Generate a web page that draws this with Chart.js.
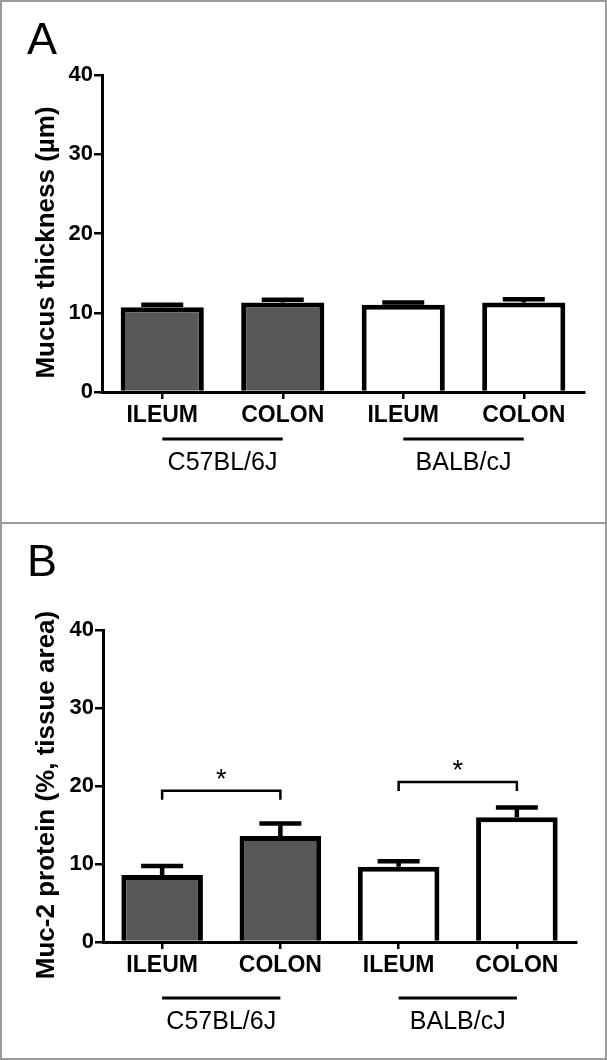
<!DOCTYPE html>
<html>
<head>
<meta charset="utf-8">
<script src="https://cdn.jsdelivr.net/npm/chart.js@4.4.1/dist/chart.umd.min.js"></script>
<style>
  body { margin: 0; background: #fff; }
  canvas { position: absolute; left: 0; }
  .frame { position: absolute; left: 0; width: 607px; box-sizing: border-box; border: 2px solid #9a9a9a; pointer-events: none; }
</style>
</head>
<body>
<canvas id="chartA" width="607" height="523" style="top:0"></canvas>
<canvas id="chartB" width="607" height="537" style="top:523px"></canvas>
<div class="frame" style="top:0;height:524px"></div>
<div class="frame" style="top:522px;height:538px"></div>
<script>
const categories = ['ILEUM', 'COLON', 'ILEUM', 'COLON'];
const strains = ['C57BL/6J', 'BALB/cJ'];
const yTicks = [0, 10, 20, 30, 40];

// panel A: mucus thickness (µm), mean and SEM
const thicknessMean = [10.7, 11.3, 11.0, 11.3];
const thicknessSem = [0.3, 0.35, 0.3, 0.4];

// panel B: Muc-2 protein (% tissue area), mean and SEM
const muc2Mean = [8.6, 13.6, 9.65, 16.0];
const muc2Sem = [1.15, 1.6, 0.7, 1.25];

// significance brackets: from bar, to bar, height
const muc2Brackets = [[0, 1, 19.4], [2, 3, 20.5]];

const barColors = ['#58585a', '#58585a', '#ffffff', '#ffffff'];
const FONT = "'Liberation Sans', Arial, sans-serif";

const extras = {
  id: 'extras',
  afterDatasetsDraw(chart, args, o) {
    const { ctx, scales: { y } } = chart;
    const meta = chart.getDatasetMeta(0);
    const vals = chart.data.datasets[0].data;
    ctx.save();
    ctx.strokeStyle = '#000';
    ctx.lineWidth = 4.5;
    o.errors.forEach((e, i) => {
      const cx = meta.data[i].x;
      const y0 = y.getPixelForValue(vals[i]);
      const y1 = y.getPixelForValue(vals[i] + e);
      ctx.beginPath();
      ctx.moveTo(cx, y0);
      ctx.lineTo(cx, y1);
      ctx.moveTo(cx - 21, y1);
      ctx.lineTo(cx + 21, y1);
      ctx.stroke();
    });
    ctx.restore();
  },
  afterDraw(chart, args, o) {
    const { ctx, chartArea: area, scales: { x, y } } = chart;
    ctx.save();
    ctx.fillStyle = '#000';
    ctx.strokeStyle = '#000';

    // panel letter
    ctx.font = '45px ' + FONT;
    ctx.textAlign = 'left';
    ctx.textBaseline = 'alphabetic';
    ctx.fillText(o.letter, 27, o.letterY);

    // y axis title
    ctx.save();
    ctx.translate(47, (area.top + area.bottom) / 2 + 9);
    ctx.rotate(-Math.PI / 2);
    ctx.font = 'bold 26px ' + FONT;
    ctx.textAlign = 'center';
    ctx.textBaseline = 'middle';
    ctx.fillText(o.title, 0, 0);
    ctx.restore();

    // strain lines and labels
    ctx.lineWidth = 3;
    ctx.font = '25px ' + FONT;
    ctx.textAlign = 'center';
    ctx.textBaseline = 'middle';
    strains.forEach((s, g) => {
      const x0 = x.getPixelForValue(g * 2);
      const x1 = x.getPixelForValue(g * 2 + 1);
      const ly = area.bottom + o.groupLine;
      ctx.beginPath();
      ctx.moveTo(x0, ly);
      ctx.lineTo(x1, ly);
      ctx.stroke();
      ctx.fillText(s, (x0 + x1) / 2, area.bottom + o.groupText);
    });

    // significance brackets
    ctx.lineWidth = 2.5;
    (o.brackets || []).forEach(([a, b, v]) => {
      const x0 = x.getPixelForValue(a);
      const x1 = x.getPixelForValue(b);
      const by = y.getPixelForValue(v);
      ctx.beginPath();
      ctx.moveTo(x0, by + 9);
      ctx.lineTo(x0, by);
      ctx.lineTo(x1, by);
      ctx.lineTo(x1, by + 9);
      ctx.stroke();
      ctx.font = '27px ' + FONT;
      ctx.textBaseline = 'alphabetic';
      ctx.fillText('*', (x0 + x1) / 2, by - 3);
    });
    ctx.restore();
  }
};

function makeChart(id, means, errs, p) {
  const canvas = document.getElementById(id);
  const H = canvas.height;
  return new Chart(canvas, {
    type: 'bar',
    data: {
      labels: categories,
      datasets: [{
        data: means,
        backgroundColor: barColors,
        borderColor: '#000',
        borderWidth: 5,
        borderSkipped: 'bottom',
        barPercentage: 0.69,
        categoryPercentage: 1
      }]
    },
    options: {
      responsive: false,
      animation: false,
      events: [],
      layout: { padding: { left: 20, top: p.top, right: 607 - p.right, bottom: 0 } },
      plugins: {
        legend: { display: false },
        tooltip: { enabled: false },
        extras: {
          errors: errs,
          letter: p.letter,
          letterY: p.letterY,
          title: p.title,
          groupLine: p.groupLine,
          groupText: p.groupText,
          brackets: p.brackets
        }
      },
      scales: {
        x: {
          z: 1,
          grid: { offset: false, drawOnChartArea: false, color: '#000', lineWidth: 2.5, tickLength: 7 },
          border: { color: '#000', width: 3 },
          ticks: { color: '#000', padding: 3, font: { family: FONT, weight: 'bold', size: 23 } },
          afterFit: s => { s.height = H - p.bottom; }
        },
        y: {
          z: 1,
          min: 0,
          max: 40,
          afterBuildTicks: s => { s.ticks = yTicks.map(v => ({ value: v })); },
          grid: { drawOnChartArea: false, color: '#000', lineWidth: 2.5, tickLength: 8 },
          border: { color: '#000', width: 3 },
          ticks: { color: '#000', padding: 1, font: { family: FONT, weight: 'bold', size: 22 } },
          afterFit: s => { s.width = p.left - 20; }
        }
      }
    },
    plugins: [extras]
  });
}

makeChart('chartA', thicknessMean, thicknessSem, {
  top: 75, bottom: 392, left: 102, right: 584,
  letter: 'A', letterY: 54,
  title: 'Mucus thickness (µm)',
  groupLine: 47, groupText: 71
});

makeChart('chartB', muc2Mean, muc2Sem, {
  top: 107, bottom: 419, left: 103, right: 576,
  letter: 'B', letterY: 53,
  title: 'Muc-2 protein (%, tissue area)',
  groupLine: 56, groupText: 80,
  brackets: muc2Brackets
});
</script>
</body>
</html>
